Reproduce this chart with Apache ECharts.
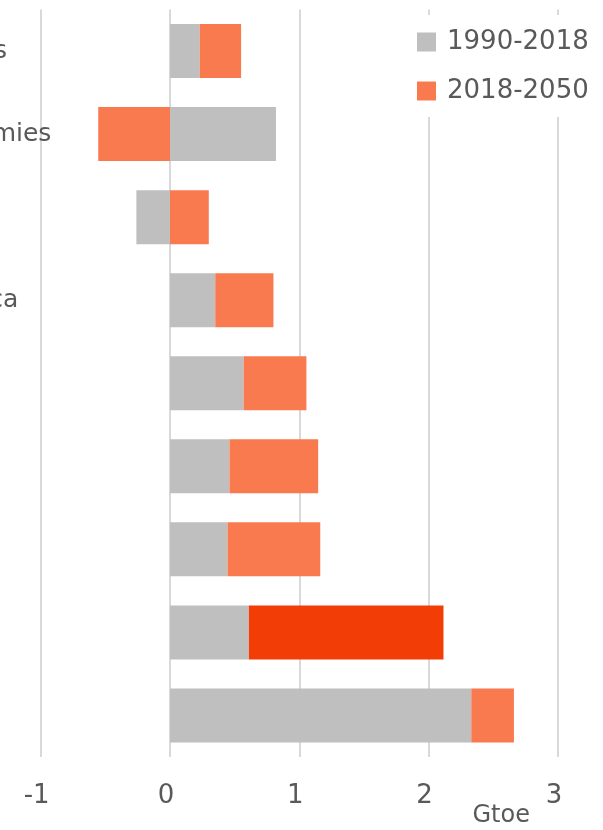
<!DOCTYPE html>
<html>
<head>
<meta charset="utf-8">
<script src="https://cdn.jsdelivr.net/npm/echarts@6/dist/echarts.min.js"></script>
<style>
  html, body { margin: 0; padding: 0; background: #ffffff; }
  #chart { width: 603px; height: 830px; }
</style>
</head>
<body>
<div id="chart"></div>
<script>
const regions = [
  'International bunkers',
  'Industrialised economies',
  'Europe and Eurasia',
  'Middle East and Africa',
  'Latin America',
  'Other Asia',
  'Southeast Asia',
  'India',
  'China'
];
const periods = ['1990-2018', '2018-2050'];
const change1990to2018 = [0.23, 0.82, -0.26, 0.35, 0.57, 0.46, 0.445, 0.61, 2.33];
const change2018to2050 = [0.32, -0.555, 0.30, 0.45, 0.485, 0.686, 0.717, 1.505, 0.33];
const xTicks = [-1, 0, 1, 2, 3];
const highlightRegion = 'India';

const TEXT = '#595959';
const FONT = 'DejaVu Sans';

const chart = echarts.init(document.getElementById('chart'));

chart.setOption({
  animation: false,
  backgroundColor: '#ffffff',
  textStyle: { fontFamily: FONT, color: TEXT },
  grid: {
    left: 40.7, right: 45.1, top: 9.5, bottom: 73,
    containLabel: false,
    outerBoundsMode: 'none'
  },
  legend: {
    orient: 'vertical',
    left: 405,
    top: 15,
    padding: [13, 10, 12, 12],
    itemGap: 21,
    itemWidth: 19,
    itemHeight: 19,
    icon: 'rect',
    backgroundColor: '#ffffff',
    textStyle: { fontSize: 26, lineHeight: 28, color: TEXT, padding: [0, 0, 0, 6] },
    data: periods
  },
  xAxis: {
    type: 'value',
    min: xTicks[0],
    max: xTicks[xTicks.length - 1],
    interval: 1,
    name: 'Gtoe',
    nameLocation: 'end',
    nameGap: -28,
    nameTextStyle: {
      fontSize: 24, color: TEXT, align: 'right', verticalAlign: 'top',
      padding: [47, 0, 0, 0]
    },
    axisLine: { show: false },
    axisTick: { show: false },
    axisLabel: { fontSize: 26, color: TEXT, margin: 26, padding: [0, 8, 0, 0] },
    splitLine: { show: true, lineStyle: { color: '#d9d9d9', width: 2 } }
  },
  yAxis: {
    type: 'category',
    data: regions,
    inverse: true,
    axisLine: { show: false, onZero: false },
    axisTick: { show: false },
    splitLine: { show: false },
    axisLabel: { fontSize: 25, color: TEXT, align: 'left', margin: 301 }
  },
  series: [
    {
      name: periods[0],
      type: 'bar',
      stack: 'total',
      barCategoryGap: '35%',
      itemStyle: { color: '#bfbfbf' },
      data: change1990to2018
    },
    {
      name: periods[1],
      type: 'bar',
      stack: 'total',
      barCategoryGap: '35%',
      itemStyle: { color: '#fa7a50' },
      data: change2018to2050.map((v, i) =>
        regions[i] === highlightRegion ? { value: v, itemStyle: { color: '#f23d06' } } : v
      )
    }
  ]
});
</script>
</body>
</html>
